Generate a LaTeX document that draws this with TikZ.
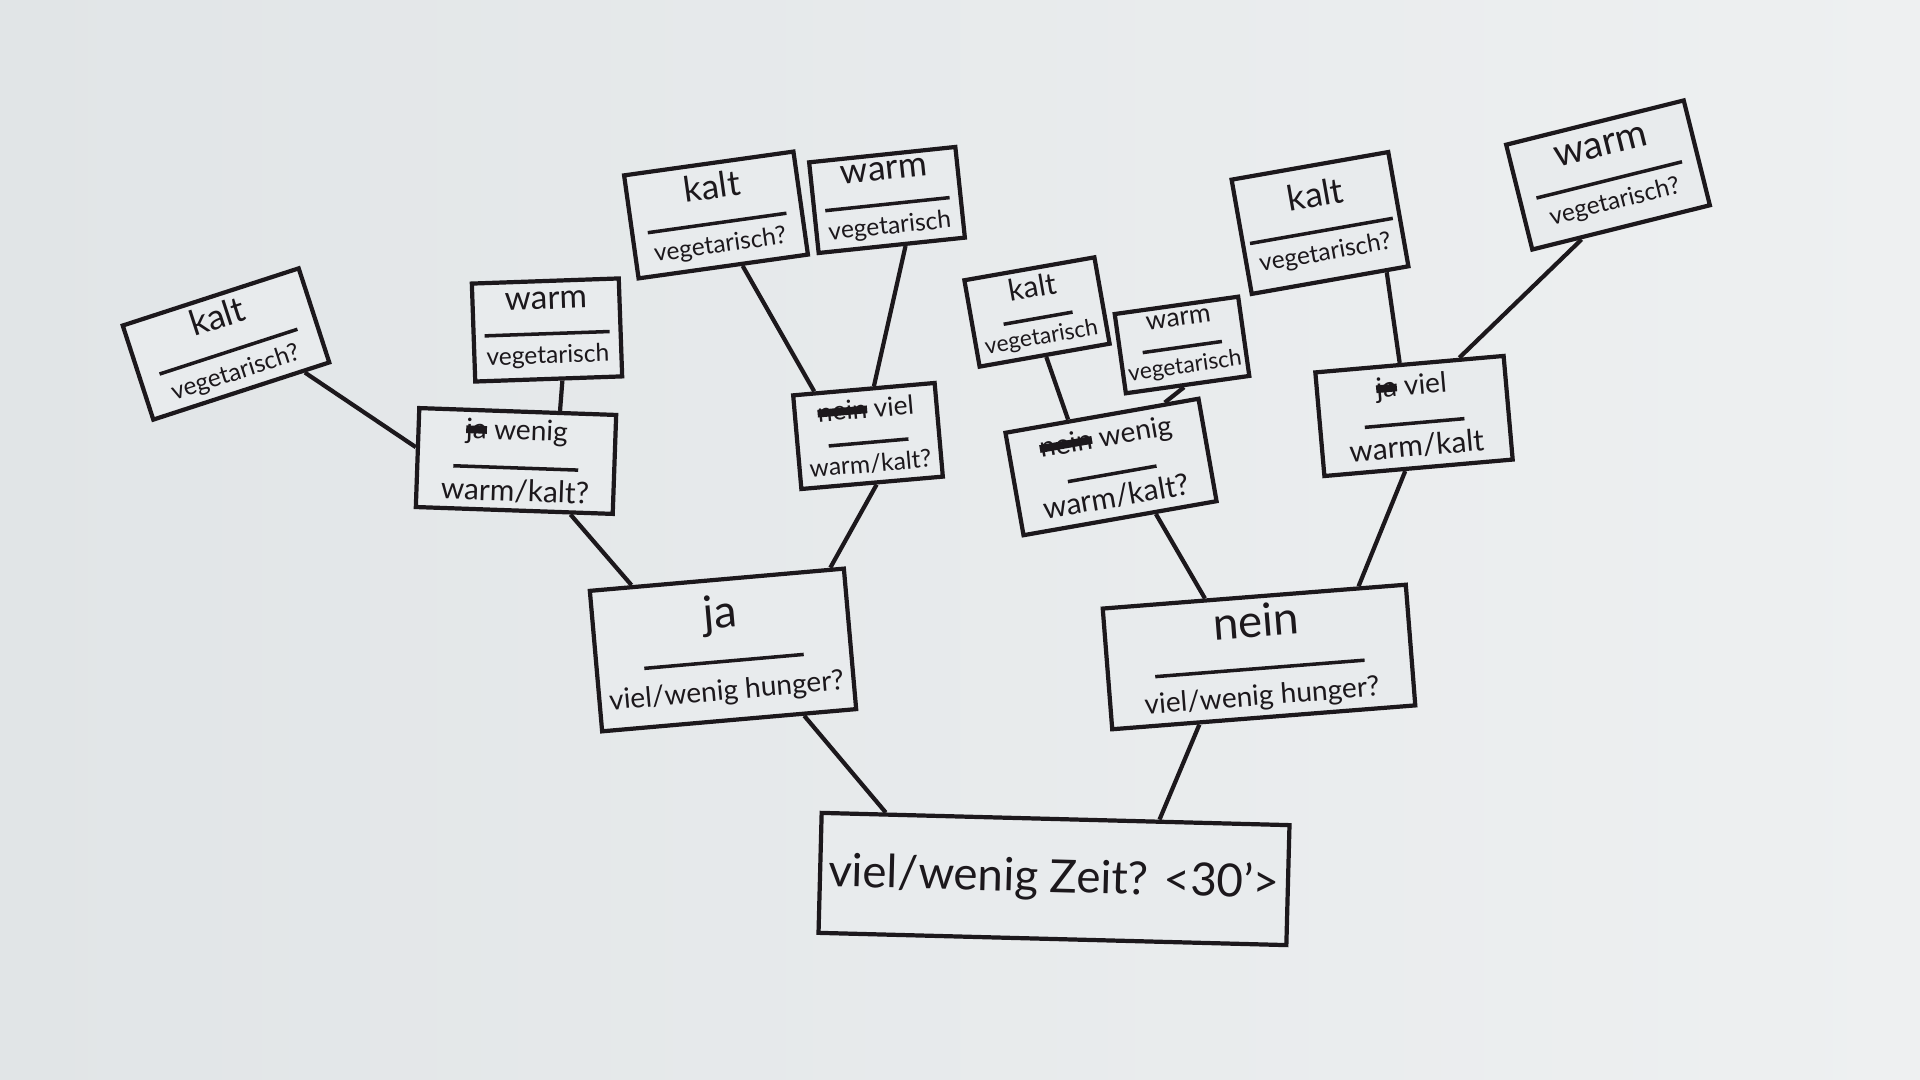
\documentclass[tikz,border=0pt]{standalone}
\usepackage{fontspec}
\setmainfont{Lato}
\usetikzlibrary{calc}
\definecolor{paperl}{RGB}{225,229,231}
\definecolor{paperr}{RGB}{238,240,241}
\definecolor{paper}{RGB}{232,235,237}
\definecolor{ink}{RGB}{28,24,28}
% top word, its size, rule width, question below
\newcommand{\entry}[4]{{\fontsize{#2}{#2}\selectfont #1}\\[-1pt]\rule{#3}{1pt}\\[-0.5pt]#4}
% crossed-out word
\newcommand{\struck}[1]{\setbox0\hbox{#1}\rlap{\raisebox{0.35ex}{\rule{\wd0}{2.2pt}}}\box0\relax}

\begin{document}
\begin{tikzpicture}[
    card/.style={draw=ink, line width=1.2pt, fill=paper, text=ink, align=center, inner sep=2pt},
    leaf/.style={card, font=\fontsize{7}{8.5}\selectfont},
    branch/.style={card, font=\fontsize{8.5}{9.5}\selectfont},
    link/.style={draw=ink, line width=1.2pt}]
  \useasboundingbox (0,0) rectangle (19.2,10.8);
  \shade[left color=paperl, right color=paperr] (0,0) rectangle (19.2,10.8);

  % root and answers
  \node[card, rotate=-1.5, minimum width=4.68cm, minimum height=1.2cm,
        font=\fontsize{13}{15}\selectfont] (root) at (10.54,2.01) {viel/wenig Zeit? <30'>};
  \node[card, rotate=5, minimum width=2.55cm, minimum height=1.41cm,
        font=\fontsize{8}{11}\selectfont] (ja) at (7.23,4.30) {\entry{ja}{13}{1.6cm}{viel/wenig hunger?}};
  \node[card, rotate=4.5, minimum width=3.04cm, minimum height=1.08cm,
        font=\fontsize{8}{10.5}\selectfont] (nein) at (12.59,4.23) {\entry{nein}{13}{2.1cm}{viel/wenig hunger?}};

  % hunger
  \node[branch, rotate=-2, minimum width=1.97cm, minimum height=0.99cm] (jawenig) at (5.16,6.19)
        {\entry{\struck{ja} wenig}{8}{1.25cm}{warm/kalt?}};
  \node[branch, rotate=5, minimum width=1.42cm, minimum height=0.94cm,
        font=\fontsize{7}{8.5}\selectfont] (javiel) at (8.68,6.44)
        {\entry{\struck{nein} viel}{7.5}{0.8cm}{warm/kalt?}};
  \node[branch, rotate=10, minimum width=1.96cm, minimum height=1.04cm] (neinwenig) at (11.11,6.13)
        {\entry{\struck{nein} wenig}{8}{0.9cm}{warm/kalt?}};
  \node[branch, rotate=5, minimum width=1.89cm, minimum height=1.04cm] (neinviel) at (14.14,6.64)
        {\entry{\struck{ja} viel}{8}{1.0cm}{warm/kalt}};

  % warm / kalt
  \node[leaf, rotate=18, minimum width=1.85cm, minimum height=0.91cm] (kaltA) at (2.26,7.36)
        {\entry{kalt}{10}{1.45cm}{vegetarisch?}};
  \node[leaf, rotate=2, minimum width=1.47cm, minimum height=0.98cm] (warmA) at (5.47,7.50)
        {\entry{warm}{9.5}{1.25cm}{vegetarisch}};
  \node[leaf, rotate=8, minimum width=1.71cm, minimum height=1.04cm] (kaltB) at (7.16,8.65)
        {\entry{kalt}{10}{1.4cm}{vegetarisch?}};
  \node[leaf, rotate=6, minimum width=1.47cm, minimum height=0.88cm] (warmB) at (8.87,8.80)
        {\entry{warm}{10}{1.25cm}{vegetarisch}};
  \node[leaf, rotate=10, minimum width=1.32cm, minimum height=0.8cm,
        font=\fontsize{6.5}{7.5}\selectfont] (kaltC) at (10.37,7.68)
        {\entry{kalt}{8.5}{0.7cm}{vegetarisch}};
  \node[leaf, rotate=8, minimum width=1.22cm, minimum height=0.8cm, inner sep=1.5pt,
        font=\fontsize{6.5}{7.5}\selectfont] (warmC) at (11.82,7.35)
        {\entry{warm}{7.5}{0.8cm}{vegetarisch}};
  \node[leaf, rotate=10, minimum width=1.59cm, minimum height=1.16cm] (kaltD) at (13.20,8.57)
        {\entry{kalt}{10}{1.45cm}{vegetarisch?}};
  \node[leaf, rotate=14, minimum width=1.83cm, minimum height=1.08cm] (warmD) at (16.08,9.05)
        {\entry{warm}{11}{1.5cm}{vegetarisch?}};

  % connectors
  \draw[link] ($(root.north west)!0.14!(root.north east)$) -- ($(ja.south west)!0.79!(ja.south east)$);
  \draw[link] ($(root.north west)!0.72!(root.north east)$) -- ($(nein.south west)!0.29!(nein.south east)$);
  \draw[link] ($(ja.north west)!0.17!(ja.north east)$) -- ($(jawenig.south west)!0.78!(jawenig.south east)$);
  \draw[link] ($(ja.north west)!0.94!(ja.north east)$) -- ($(javiel.south west)!0.53!(javiel.south east)$);
  \draw[link] ($(nein.north west)!0.34!(nein.north east)$) -- ($(neinwenig.south west)!0.68!(neinwenig.south east)$);
  \draw[link] ($(nein.north west)!0.84!(nein.north east)$) -- ($(neinviel.south west)!0.43!(neinviel.south east)$);
  \draw[link] ($(jawenig.north west)!0.4!(jawenig.south west)$) -- ($(kaltA.south west)!0.85!(kaltA.south east)$);
  \draw[link] ($(jawenig.north west)!0.71!(jawenig.north east)$) -- ($(warmA.south west)!0.59!(warmA.south east)$);
  \draw[link] ($(javiel.north west)!0.16!(javiel.north east)$) -- ($(kaltB.south west)!0.61!(kaltB.south east)$);
  \draw[link] ($(javiel.north west)!0.57!(javiel.north east)$) -- ($(warmB.south west)!0.59!(warmB.south east)$);
  \draw[link] ($(neinwenig.north west)!0.33!(neinwenig.north east)$) -- ($(kaltC.south west)!0.51!(kaltC.south east)$);
  \draw[link] ($(neinwenig.north west)!0.82!(neinwenig.north east)$) -- ($(warmC.south west)!0.47!(warmC.south east)$);
  \draw[link] ($(neinviel.north west)!0.45!(neinviel.north east)$) -- ($(kaltD.south west)!0.85!(kaltD.south east)$);
  \draw[link] ($(neinviel.north west)!0.76!(neinviel.north east)$) -- ($(warmD.south west)!0.28!(warmD.south east)$);
\end{tikzpicture}
\end{document}
